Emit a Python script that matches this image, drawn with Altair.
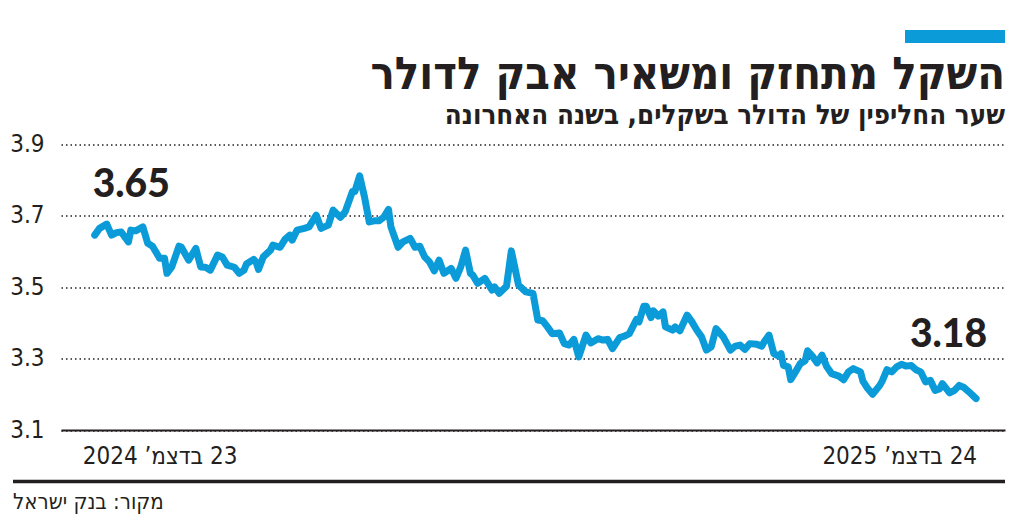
import altair as alt
import pandas as pd

# ---- data ----
days = [0, 2, 5, 7, 9, 11, 14, 15, 17, 20,
        22, 24, 27, 29, 30, 32, 35, 36, 39, 42,
        44, 46, 48, 51, 53, 55, 58, 60, 62, 63,
        66, 67, 68, 70, 73, 74, 77, 79, 81, 82,
        84, 87, 89, 92, 94, 97, 99, 102, 104, 107,
        108, 110, 112, 114, 116, 118, 120, 122, 123, 126,
        128, 131, 133, 135, 137, 139, 141, 143, 145, 148,
        150, 152, 154, 156, 157, 159, 162, 165, 166, 168,
        171, 173, 176, 179, 182, 184, 186, 188, 190, 193,
        195, 197, 199, 201, 204, 206, 209, 211, 213, 215,
        218, 220, 222, 225, 226, 228, 229, 231, 232, 234,
        236, 237, 240, 241, 243, 246, 248, 250, 252, 254,
        256, 258, 261, 264, 266, 268, 270, 272, 275, 277,
        278, 280, 282, 284, 285, 286, 288, 289, 291, 293,
        295, 296, 298, 300, 302, 304, 306, 309, 311, 313,
        315, 318, 319, 321, 323, 326, 327, 329, 331, 333,
        335, 337, 339, 341, 343, 345, 347, 349, 351, 352,
        355, 357, 359, 361, 363, 366]

rates = [3.646, 3.665, 3.677, 3.646, 3.653, 3.655, 3.627, 3.660, 3.658, 3.669,
         3.623, 3.615, 3.581, 3.581, 3.539, 3.557, 3.615, 3.612, 3.576, 3.609,
         3.557, 3.556, 3.548, 3.590, 3.585, 3.562, 3.556, 3.539, 3.548, 3.565,
         3.578, 3.571, 3.550, 3.585, 3.604, 3.618, 3.612, 3.634, 3.646, 3.632,
         3.660, 3.665, 3.669, 3.702, 3.665, 3.674, 3.716, 3.696, 3.711, 3.768,
         3.768, 3.812, 3.754, 3.683, 3.686, 3.686, 3.696, 3.718, 3.669, 3.612,
         3.627, 3.637, 3.612, 3.615, 3.585, 3.571, 3.546, 3.576, 3.539, 3.553,
         3.525, 3.557, 3.604, 3.539, 3.534, 3.511, 3.525, 3.492, 3.501, 3.483,
         3.503, 3.602, 3.506, 3.487, 3.483, 3.408, 3.406, 3.389, 3.370, 3.372,
         3.342, 3.338, 3.354, 3.305, 3.366, 3.344, 3.356, 3.352, 3.354, 3.328,
         3.359, 3.363, 3.370, 3.410, 3.403, 3.447, 3.447, 3.415, 3.434, 3.419,
         3.431, 3.389, 3.380, 3.389, 3.378, 3.422, 3.403, 3.380, 3.361, 3.324,
         3.333, 3.384, 3.361, 3.324, 3.335, 3.338, 3.326, 3.342, 3.340, 3.335,
         3.347, 3.366, 3.314, 3.307, 3.314, 3.281, 3.277, 3.241, 3.263, 3.286,
         3.294, 3.322, 3.307, 3.288, 3.310, 3.277, 3.258, 3.251, 3.241, 3.263,
         3.272, 3.263, 3.237, 3.216, 3.200, 3.225, 3.237, 3.269, 3.263, 3.277,
         3.284, 3.279, 3.281, 3.269, 3.263, 3.235, 3.239, 3.211, 3.216, 3.230,
         3.204, 3.211, 3.225, 3.219, 3.207, 3.188]

start_date = "2024-12-23"
y_ticks = [3.1, 3.3, 3.5, 3.7, 3.9]
end_labels = ["3.65", "3.18"]
RLM = "\u200f"
date_labels = [RLM + "23 בדצמ’ 2024", RLM + "24 בדצמ’ 2025"]
title_text = RLM + "השקל מתחזק ומשאיר אבק לדולר"
subtitle_text = RLM + "שער החליפין של הדולר בשקלים, בשנה האחרונה"
source_text = RLM + "מקור: בנק ישראל"

# ---- tables ----
start = pd.Timestamp(start_date)
df = pd.DataFrame({"date": start + pd.to_timedelta(days, unit="D"), "rate": rates})
ends = pd.DataFrame({
    "date": [df["date"].iloc[0], df["date"].iloc[-1]],
    "rate": [rates[0], rates[-1]],
    "label": end_labels,
    "dlabel": date_labels,
    "base": [y_ticks[0], y_ticks[0]],
})
one = pd.DataFrame({"k": [0]})

BLUE = "#0a9bd8"
INK = "#231f20"
NARROW = "'DejaVu Sans Condensed', 'Liberation Sans Narrow', 'Liberation Sans', sans-serif"
HEAVY = "Lato, 'Open Sans', sans-serif"

x_scale = alt.Scale(domain=[alt.DateTime(year=2024, month=12, date=9),
                            alt.DateTime(year=2026, month=1, date=5)])
y_scale = alt.Scale(domain=[3.1, 3.9])

line = alt.Chart(df).mark_line(
    color=BLUE, strokeWidth=7, strokeJoin="round", strokeCap="round"
).encode(
    x=alt.X("date:T", scale=x_scale,
            axis=alt.Axis(labels=False, ticks=False, grid=False, domain=True,
                          domainColor=INK, domainWidth=2, title=None)),
    y=alt.Y("rate:Q", scale=y_scale,
            axis=alt.Axis(values=y_ticks, format=".1f", labelFont=NARROW,
                          labelFontSize=24, labelColor=INK, labelPadding=17,
                          ticks=False, domain=False, grid=True, gridColor=INK,
                          gridDash=[1.5, 3], gridWidth=1.5, title=None)),
)

first_lbl = alt.Chart(ends.iloc[[0]]).mark_text(
    align="left", baseline="alphabetic", dx=-2, dy=-38,
    font=HEAVY, fontSize=39, fontWeight=900, color=INK
).encode(x=alt.X("date:T", scale=x_scale), y=alt.Y("rate:Q", scale=y_scale), text="label:N")

last_lbl = alt.Chart(ends.iloc[[1]]).mark_text(
    align="right", baseline="alphabetic", dx=11, dy=-52,
    font=HEAVY, fontSize=39, fontWeight=900, color=INK
).encode(x=alt.X("date:T", scale=x_scale), y=alt.Y("rate:Q", scale=y_scale), text="label:N")

first_date = alt.Chart(ends.iloc[[0]]).mark_text(
    align="left", baseline="alphabetic", dx=-12, dy=34,
    font=NARROW, fontSize=24, color=INK
).encode(x=alt.X("date:T", scale=x_scale), y=alt.Y("base:Q", scale=y_scale), text="dlabel:N")

last_date = alt.Chart(ends.iloc[[1]]).mark_text(
    align="right", baseline="alphabetic", dx=1, dy=34,
    font=NARROW, fontSize=24, color=INK
).encode(x=alt.X("date:T", scale=x_scale), y=alt.Y("base:Q", scale=y_scale), text="dlabel:N")

blue_bar = alt.Chart(one).mark_rect(color=BLUE).encode(
    x=alt.value(844), x2=alt.value(944), y=alt.value(-114.5), y2=alt.value(-101.5))

title = alt.Chart(one).mark_text(
    align="right", baseline="alphabetic", font=NARROW, fontSize=45,
    fontWeight="bold", color=INK
).encode(x=alt.value(944), y=alt.value(-56), text=alt.value(title_text))

subtitle = alt.Chart(one).mark_text(
    align="right", baseline="alphabetic", font=NARROW, fontSize=27.5,
    fontWeight="bold", color=INK
).encode(x=alt.value(944), y=alt.value(-21), text=alt.value(subtitle_text))

bottom_rule = alt.Chart(one).mark_rule(color=INK, strokeWidth=3.5).encode(
    x=alt.value(-48), x2=alt.value(944), y=alt.value(337))

source = alt.Chart(one).mark_text(
    align="left", baseline="alphabetic", font=NARROW, fontSize=22, color=INK
).encode(x=alt.value(-48), y=alt.value(364.5), text=alt.value(source_text))

chart = alt.layer(
    line, first_lbl, last_lbl, first_date, last_date,
    blue_bar, title, subtitle, bottom_rule, source
).properties(
    width=944, height=285.5,
    autosize=alt.AutoSizeParams(type="none"),
    padding={"left": 53, "top": 136.5, "right": 11, "bottom": 84},
).configure_view(stroke=None)

chart.save("out.html", embed_options={"renderer": "svg", "actions": False})
